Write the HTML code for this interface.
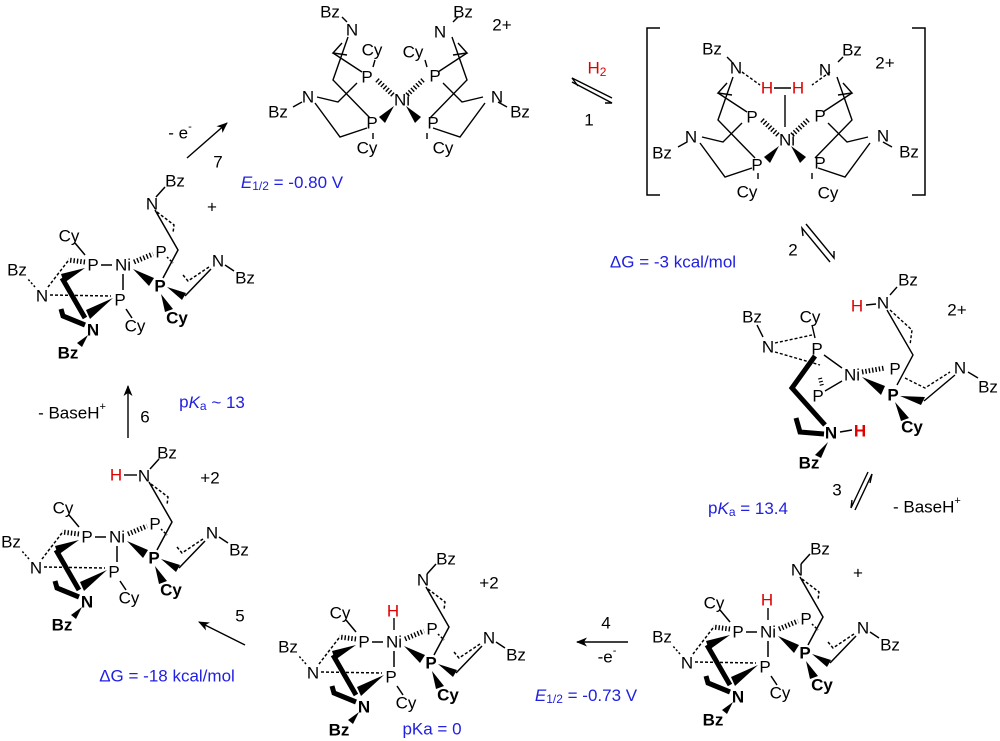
<!DOCTYPE html>
<html><head><meta charset="utf-8"><style>
html,body{margin:0;padding:0;background:#fff;}
svg{display:block;}
text{font-family:"Liberation Sans",Arial,sans-serif;font-size:17px;fill:#000;text-anchor:middle;dominant-baseline:central;}
.b{font-weight:bold;}
.r{fill:#e00000;}
.bl{fill:#2020e0;}
.s{text-anchor:start;}
</style></head><body>
<svg width="1000" height="741" viewBox="0 0 1000 741" xmlns="http://www.w3.org/2000/svg">
<defs>
<marker id="ah" markerWidth="11" markerHeight="9" refX="10" refY="4.5" orient="auto" markerUnits="userSpaceOnUse"><path d="M0,0 L11,4.5 L0,9 L3,4.5 Z" fill="#000"/></marker>
<g id="cage" stroke="#000" stroke-width="1.5" fill="none">
  <path d="M-22,0 L-11,0"/>
  <path d="M-48,-22 L-38,-10"/>
  <path d="M0,9 L0,25"/>
  <path d="M3,44 L9,53"/>
  <path d="M11,-3 L30,-11" stroke-width="5" stroke-dasharray="1.4 2"/>
  <polygon points="10,4 31,13 26,21" fill="#000" stroke="none"/>
  <polygon points="38,29 42,47 50,44" fill="#000" stroke="none"/>
  <polygon points="44,22 63,28 59,35" fill="#000" stroke="none"/>
  <path d="M62,31 L88,4"/>
  <path d="M86,2 L65,16 L60,10" stroke-dasharray="3 2"/>
  <path d="M40,13 L55,-15 L32,-55"/>
  <path d="M34,-53 L51,-40 L50,-32" stroke-dasharray="3 2"/>
  <path d="M44,-8 L50,-2" stroke-dasharray="2 2"/>
  <path d="M33,-68 L42,-78"/>
  <path d="M102,0 L111,6"/>
  <path d="M-38,-3 L-55,-5" stroke-width="5" stroke-dasharray="1.4 2"/>
  <path d="M-55,-4 L-75,22" stroke-dasharray="3 2"/>
  <path d="M-88,22 L-96,13" stroke-dasharray="2 2"/>
  <polygon points="-38,3 -62,9 -59,18" fill="#000" stroke="none"/>
  <path d="M-61,13 L-38,53" stroke-width="5"/>
  <polygon points="-10,33 -37,45 -33,54" fill="#000" stroke="none"/>
  <path d="M-73,30 L-12,31" stroke-dasharray="3 2"/>
  <path d="M-62,44 L-60,51 L-38,60" stroke-width="5"/>
  <polygon points="-35,70 -46,78 -41,82" fill="#000" stroke="none"/>
</g>
<g id="topL" stroke="#000" stroke-width="1.4" fill="none">
  <path d="M342,17 L347,22"/>
  <path d="M348,37 L333,80 L370,118"/>
  <path d="M342,43 L333,53 L347,55"/>
  <path d="M333,53 L362,72"/>
  <path d="M317,97 L338,102 L357,83"/>
  <path d="M315,103 L340,137 L367,128"/>
  <path d="M377,80 L393,95" stroke-width="5" stroke-dasharray="1.4 2"/>
  <polygon points="379,117 385,123 394,106" fill="#000" stroke="none"/>
  <path d="M373,133 L373,139"/>
  <path d="M293,107 L302,102"/>
</g>
</defs>

<!-- Top molecule -->
<use href="#topL"/>
<use href="#topL" transform="translate(800,0) scale(-1,1)"/>
<path d="M375,60 L373,67 M425,60 L427,67" stroke="#000" stroke-width="1.4"/>
<text x="330" y="12">Bz</text><text x="352" y="30">N</text><text x="372" y="50">Cy</text><text x="367" y="77">P</text>
<text x="308" y="97">N</text><text x="278" y="112">Bz</text><text x="402" y="100">Ni</text><text x="372" y="123">P</text><text x="367" y="148">Cy</text>
<text x="463" y="12">Bz</text><text x="440" y="32">N</text><text x="413" y="52">Cy</text><text x="435" y="76">P</text>
<text x="497" y="97">N</text><text x="520" y="112">Bz</text><text x="433" y="123">P</text><text x="443" y="148">Cy</text><text x="502" y="25">2+</text>

<!-- step 1 -->
<text x="597" y="68" class="r">H<tspan font-size="12" dy="4">2</tspan></text>
<path d="M572,82 L612,103 L605,103" stroke="#000" stroke-width="1.4" fill="none"/>
<path d="M612,98 L572,78 L578,86" stroke="#000" stroke-width="1.4" fill="none"/>
<text x="589" y="120">1</text>

<!-- Bracketed molecule -->
<use href="#topL" transform="translate(385,40)"/>
<use href="#topL" transform="translate(1185,40) scale(-1,1)"/>
<path d="M660,28 L647,28 L647,195 L660,195 M912,28 L925,28 L925,195 L912,195" stroke="#000" stroke-width="1.5" fill="none"/>
<path d="M742,72 L760,85 M830,72 L812,85" stroke="#000" stroke-width="1.4" stroke-dasharray="3 2"/>
<path d="M774,88 L791,88 M785,95 L785,127" stroke="#000" stroke-width="1.4"/>
<text x="712" y="49">Bz</text><text x="736" y="68">N</text><text x="767" y="88" class="r">H</text><text x="798" y="88" class="r">H</text>
<text x="825" y="70">N</text><text x="852" y="50">Bz</text><text x="885" y="63">2+</text>
<text x="752" y="117">P</text><text x="820" y="116">P</text><text x="787" y="140">Ni</text>
<text x="691" y="137">N</text><text x="662" y="153">Bz</text><text x="757" y="165">P</text><text x="747" y="192">Cy</text>
<text x="820" y="163">P</text><text x="828" y="193">Cy</text><text x="883" y="136">N</text><text x="909" y="152">Bz</text>

<!-- step 2 -->
<path d="M806,224 L834,258 L834,251" stroke="#000" stroke-width="1.4" fill="none"/>
<path d="M830,262 L802,228 L803,236" stroke="#000" stroke-width="1.4" fill="none"/>
<text x="793" y="250">2</text>
<text x="673" y="262" class="bl">ΔG = -3 kcal/mol</text>

<!-- Molecule B -->
<g stroke="#000" stroke-width="1.4" fill="none">
  <path d="M757,325 L763,337"/>
  <path d="M775,343 L812,335" stroke-dasharray="3 2"/>
  <path d="M775,352 L820,365" stroke-dasharray="3 2"/>
  <path d="M812,325 L815,338"/>
  <path d="M824,355 L842,368 M825,391 L842,381"/>
  <path d="M815,356 L792,388 L825,425" stroke-width="5"/>
  <path d="M796,418 L800,432 L824,434" stroke-width="5"/>
  <path d="M820,378 L822,386" stroke-width="4" stroke-dasharray="1.2 2"/>
  <path d="M840,432 L852,430"/>
  <polygon points="828,442 815,455 821,458" fill="#000" stroke="none"/>
  <path d="M887,310 L913,355 L897,385"/>
  <path d="M890,310 L912,330 L910,345" stroke-dasharray="3 2"/>
  <path d="M862,372 L885,368" stroke-width="5" stroke-dasharray="1.4 2"/>
  <polygon points="862,377 885,386 881,395" fill="#000" stroke="none"/>
  <path d="M905,378 L925,388 L950,372" stroke-dasharray="3 2"/>
  <polygon points="900,396 925,397 921,405" fill="#000" stroke="none"/>
  <path d="M924,401 L955,375"/>
  <polygon points="895,402 901,421 909,418" fill="#000" stroke="none"/>
  <path d="M866,305 L876,304 M890,295 L897,287 M968,372 L978,378"/>
</g>
<text x="752" y="317">Bz</text><text x="810" y="317">Cy</text><text x="768" y="347">N</text><text x="817" y="349">P</text>
<text x="852" y="375">Ni</text><text x="818" y="396">P</text><text x="831" y="433" class="b">N</text><text x="860" y="431" class="r b">H</text>
<text x="809" y="463" class="b">Bz</text><text x="883" y="303">N</text><text x="857" y="306" class="r">H</text><text x="908" y="280">Bz</text>
<text x="957" y="310">2+</text><text x="895" y="369">P</text><text x="893" y="395" class="b">P</text><text x="912" y="427" class="b">Cy</text>
<text x="960" y="368">N</text><text x="988" y="387">Bz</text>

<!-- step 3 -->
<path d="M872,474 L855,510 M868,472 L851,508 L852,500" stroke="#000" stroke-width="1.4" fill="none"/>
<path d="M872,474 L870,483" stroke="#000" stroke-width="1.4"/>
<text x="837" y="490">3</text>
<text x="748" y="508" class="bl">p<tspan font-style="italic">K</tspan><tspan font-size="12" dy="4">a</tspan><tspan dy="-4"> = 13.4</tspan></text>
<text x="893" y="507" class="s">- BaseH<tspan font-size="11" dy="-6">+</tspan></text>

<!-- Molecule D (bottom right) -->
<use href="#cage" transform="translate(768,632)"/>
<path d="M768,608 L768,620" stroke="#000" stroke-width="1.4"/>
<g transform="translate(768,632)">
<text x="0" y="0">Ni</text><text x="-30" y="0">P</text><text x="-54" y="-29">Cy</text><text x="-3" y="35">P</text><text x="12" y="61">Cy</text>
<text x="-106" y="5">Bz</text><text x="-81" y="31">N</text><text x="-30" y="65" class="b">N</text><text x="-55" y="88" class="b">Bz</text>
<text x="38" y="-13">P</text><text x="37" y="21" class="b">P</text><text x="54" y="53" class="b">Cy</text><text x="95" y="-4">N</text><text x="122" y="13">Bz</text>
<text x="29" y="-62">N</text><text x="52" y="-83">Bz</text><text x="-1" y="-32" class="r">H</text><text x="90" y="-59">+</text>
</g>

<!-- step 4 -->
<path d="M628,642 L577,642" stroke="#000" stroke-width="1.4" marker-end="url(#ah)"/>
<text x="606" y="623">4</text>
<text x="607" y="657">-e<tspan font-size="11" dy="-6">-</tspan></text>
<text x="586" y="695" class="bl"><tspan font-style="italic">E</tspan><tspan font-size="12" dy="4">1/2</tspan><tspan dy="-4"> = -0.73 V</tspan></text>

<!-- Molecule C (bottom middle) -->
<use href="#cage" transform="translate(394,642)"/>
<path d="M394,618 L394,630" stroke="#000" stroke-width="1.4"/>
<g transform="translate(394,642)">
<text x="0" y="0">Ni</text><text x="-30" y="0">P</text><text x="-54" y="-29">Cy</text><text x="-3" y="35">P</text><text x="12" y="61">Cy</text>
<text x="-106" y="5">Bz</text><text x="-81" y="31">N</text><text x="-30" y="65" class="b">N</text><text x="-55" y="88" class="b">Bz</text>
<text x="38" y="-13">P</text><text x="37" y="21" class="b">P</text><text x="54" y="53" class="b">Cy</text><text x="95" y="-4">N</text><text x="122" y="13">Bz</text>
<text x="29" y="-62">N</text><text x="52" y="-83">Bz</text><text x="-1" y="-31" class="r">H</text><text x="95" y="-59">+2</text>
</g>
<text x="432" y="729" class="bl">pKa = 0</text>

<!-- step 5 -->
<path d="M245,645 L199,622" stroke="#000" stroke-width="1.4" marker-end="url(#ah)"/>
<text x="240" y="616">5</text>
<text x="167" y="676" class="bl">ΔG = -18 kcal/mol</text>

<!-- Molecule E (left) -->
<use href="#cage" transform="translate(117,537)"/>
<path d="M124,475 L137,475" stroke="#000" stroke-width="1.4"/>
<g transform="translate(117,537)">
<text x="0" y="0">Ni</text><text x="-30" y="0">P</text><text x="-54" y="-29">Cy</text><text x="-3" y="35">P</text><text x="12" y="61">Cy</text>
<text x="-106" y="5">Bz</text><text x="-81" y="31">N</text><text x="-30" y="65" class="b">N</text><text x="-55" y="88" class="b">Bz</text>
<text x="38" y="-13">P</text><text x="37" y="21" class="b">P</text><text x="54" y="53" class="b">Cy</text><text x="95" y="-4">N</text><text x="122" y="13">Bz</text>
<text x="27" y="-61">N</text><text x="50" y="-84">Bz</text><text x="-1" y="-62" class="r">H</text><text x="93" y="-59">+2</text>
</g>

<!-- step 6 -->
<path d="M128,438 L128,386" stroke="#000" stroke-width="1.4" marker-end="url(#ah)"/>
<text x="145" y="417">6</text>
<text x="72" y="413">- BaseH<tspan font-size="11" dy="-6">+</tspan></text>
<text x="212" y="402" class="bl">p<tspan font-style="italic">K</tspan><tspan font-size="12" dy="4">a</tspan><tspan dy="-4"> ~ 13</tspan></text>

<!-- Molecule F (top left) -->
<use href="#cage" transform="translate(123,265)"/>
<g transform="translate(123,265)">
<text x="0" y="0">Ni</text><text x="-30" y="0">P</text><text x="-54" y="-29">Cy</text><text x="-3" y="35">P</text><text x="12" y="61">Cy</text>
<text x="-106" y="5">Bz</text><text x="-81" y="31">N</text><text x="-30" y="65" class="b">N</text><text x="-55" y="88" class="b">Bz</text>
<text x="38" y="-13">P</text><text x="37" y="21" class="b">P</text><text x="54" y="53" class="b">Cy</text><text x="95" y="-4">N</text><text x="122" y="13">Bz</text>
<text x="29" y="-61">N</text><text x="52" y="-84">Bz</text><text x="89" y="-58">+</text>
</g>

<!-- step 7 -->
<path d="M187,158 L227,123" stroke="#000" stroke-width="1.4" marker-end="url(#ah)"/>
<text x="180" y="133">- e<tspan font-size="11" dy="-6">-</tspan></text>
<text x="218" y="162">7</text>
<text x="292" y="182" class="bl"><tspan font-style="italic">E</tspan><tspan font-size="12" dy="4">1/2</tspan><tspan dy="-4"> = -0.80 V</tspan></text>
</svg>
</body></html>
